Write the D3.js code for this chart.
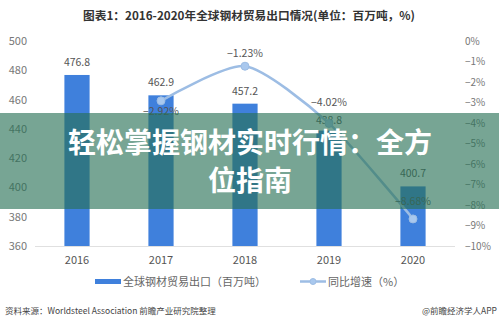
<!DOCTYPE html>
<html><head><meta charset="utf-8">
<script src="https://cdn.jsdelivr.net/npm/d3@7/dist/d3.min.js"></script>
<style>body{margin:0;background:#fff}svg{display:block}</style>
</head><body>
<script>
const years = ["2016","2017","2018","2019","2020"];
const exportsVal = [476.8, 462.9, 457.2, 438.8, 400.7];
const growth = [null, -2.92, -1.23, -4.02, -8.68];
const leftTicks = [360,380,400,420,440,460,480,500];
const rightTicks = [0,-1,-2,-3,-4,-5,-6,-7,-8,-9,-10];

const W=499,H=324;
const font="'Noto Sans CJK SC','Noto Sans',sans-serif";
const svg=d3.select("body").append("svg").attr("width",W).attr("height",H);
const x=d3.scaleBand().domain(years).range([35,455]).paddingInner(0.7).paddingOuter(0.35);
const yL=d3.scaleLinear().domain([360,500]).range([246,41]);
const yR=d3.scaleLinear().domain([-10,0]).range([246,41]);

svg.append("text").attr("x",249).attr("y",20).attr("text-anchor","middle")
  .attr("font-family",font).attr("font-size",11.7).attr("font-weight","bold").attr("fill","#333")
  .text("图表1：2016-2020年全球钢材贸易出口情况(单位：百万吨，%)");

svg.append("line").attr("x1",35).attr("x2",455).attr("y1",246.5).attr("y2",246.5).attr("stroke","#e0e0e0");

const axL=svg.append("g").attr("transform","translate(27,0)").call(d3.axisLeft(yL).tickValues(leftTicks).tickSize(0).tickPadding(0));
axL.select(".domain").remove();
axL.selectAll("text").attr("font-family",font).attr("font-size",11).attr("fill","#777");
const axR=svg.append("g").attr("transform","translate(465,0)").call(d3.axisRight(yR).tickValues(rightTicks).tickFormat(d=>(d<0?"−":"")+Math.abs(d)+"%").tickSize(0).tickPadding(0));
axR.select(".domain").remove();
axR.selectAll("text").attr("font-family",font).attr("font-size",10).attr("fill","#777");
const axB=svg.append("g").attr("transform","translate(0,247)").call(d3.axisBottom(x).tickSize(0).tickPadding(9));
axB.select(".domain").remove();
axB.selectAll("text").attr("font-family",font).attr("font-size",11).attr("fill","#555");

svg.selectAll(".bar").data(exportsVal).join("rect")
  .attr("x",(d,i)=>x(years[i])).attr("width",x.bandwidth())
  .attr("y",d=>yL(d)).attr("height",d=>yL(360)-yL(d)).attr("fill","#3f80dc");
const barOffs=[-9,-9,-9,-7,-9];
svg.selectAll(".bl").data(exportsVal).join("text")
  .attr("x",(d,i)=>x(years[i])+x.bandwidth()/2).attr("y",(d,i)=>yL(d)+barOffs[i])
  .attr("text-anchor","middle").attr("font-family",font).attr("font-size",10.5).attr("fill","#555")
  .text(d=>d.toFixed(1));

const pts=growth.map((g,i)=>({g,i})).filter(d=>d.g!==null);
const line=d3.line().x(d=>x(years[d.i])+x.bandwidth()/2).y(d=>yR(d.g)).curve(d3.curveCardinal.tension(0.3));
svg.append("path").datum(pts).attr("d",line).attr("fill","none").attr("stroke","#9dbde4").attr("stroke-width",2.5);
svg.selectAll(".pt").data(pts).join("circle")
  .attr("cx",d=>x(years[d.i])+x.bandwidth()/2).attr("cy",d=>yR(d.g)).attr("r",4)
  .attr("fill","#a9c8ee").attr("stroke","#9dbde4");
const offs=[14,-9,-17,-14];
svg.selectAll(".gl").data(pts).join("text")
  .attr("x",d=>x(years[d.i])+x.bandwidth()/2).attr("y",(d,k)=>yR(d.g)+offs[k])
  .attr("text-anchor","middle").attr("font-family",font).attr("font-size",10.5).attr("fill","#555")
  .text(d=>"−"+Math.abs(d.g).toFixed(2)+"%");

svg.append("rect").attr("x",95).attr("y",279).attr("width",26).attr("height",5).attr("fill","#3f80dc");
svg.append("text").attr("x",123).attr("y",286).attr("font-family",font).attr("font-size",11).attr("fill","#666").text("全球钢材贸易出口（百万吨）");
svg.append("line").attr("x1",300).attr("x2",326).attr("y1",281.5).attr("y2",281.5).attr("stroke","#9dbde4").attr("stroke-width",2.5);
svg.append("circle").attr("cx",313).attr("cy",281.5).attr("r",3).attr("fill","#a9c8ee").attr("stroke","#9dbde4");
svg.append("text").attr("x",328).attr("y",286).attr("font-family",font).attr("font-size",11).attr("fill","#666").text("同比增速（%）");

svg.append("text").attr("x",5).attr("y",314).attr("font-family",font).attr("font-size",8.5).attr("fill","#444").text("资料来源：Worldsteel Association 前瞻产业研究院整理");
svg.append("text").attr("x",497).attr("y",314).attr("text-anchor","end").attr("font-family",font).attr("font-size",8.5).attr("fill","#444").text("@前瞻经济学人APP");

svg.append("rect").attr("x",0).attr("y",113).attr("width",W).attr("height",96).attr("fill","rgb(39,113,85)").attr("fill-opacity",0.63);
svg.append("text").attr("x",250).attr("y",153).attr("text-anchor","middle").attr("font-family",font).attr("font-size",28).attr("font-weight","bold").attr("fill","#fff").text("轻松掌握钢材实时行情：全方");
svg.append("text").attr("x",250).attr("y",191).attr("text-anchor","middle").attr("font-family",font).attr("font-size",28).attr("font-weight","bold").attr("fill","#fff").text("位指南");
</script>
</body></html>
